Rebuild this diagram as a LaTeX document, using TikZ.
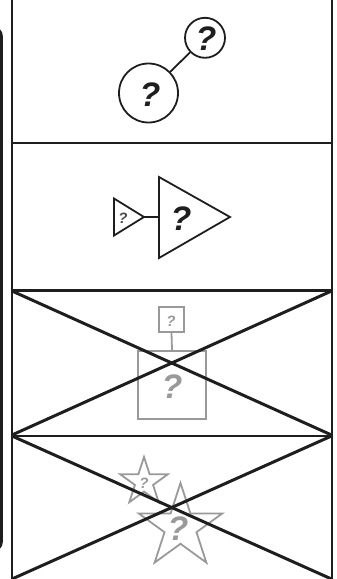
\documentclass[tikz,border=0pt]{standalone}
\usepackage{fontspec}
\setmainfont{Liberation Sans}
\usetikzlibrary{shapes.geometric}
\definecolor{ghost}{HTML}{999999}
\definecolor{ink}{HTML}{1E1E1E}
\tikzset{
  frameline/.style={draw=ink, line width=2pt},
  crossline/.style={draw=ink, line width=3pt},
  blackshape/.style={draw=ink, line width=1.8pt},
  grayshape/.style={draw=ghost, line width=1.8pt},
  bigq/.style={font=\fontsize{34}{34}\selectfont\bfseries\itshape, inner sep=0pt},
  smallq/.style={font=\fontsize{15}{15}\selectfont\bfseries\itshape, inner sep=0pt},
}
\begin{document}
\begin{tikzpicture}[x=1pt,y=-1pt]
\useasboundingbox (0,0) rectangle (337,579);
\begin{scope}
\clip (0,0) rectangle (337,579);
% left cropped rounded frame
\draw[draw=ink, line width=2.6pt, rounded corners=8pt] (-60,28) rectangle (1.5,550);
% main frame
\draw[frameline] (12,-5) -- (12,584);
\draw[frameline] (331.5,-5) -- (331.5,584);
\draw[frameline] (12,143) -- (331.5,143);
\draw[draw=ink, line width=3pt] (12,290.5) -- (331.5,290.5);
\draw[draw=ink, line width=2.4pt] (12,436) -- (331.5,436);
% section 1: circles
\node[circle, blackshape, minimum size=59pt, inner sep=0pt] (c1) at (148.5,93) {};
\node[circle, blackshape, minimum size=40pt, inner sep=0pt] (c2) at (205,37.8) {};
\draw[blackshape] (c1) -- (c2);
\node[bigq, text=ink] (q1) at (150,95) {?};
\node[bigq, text=ink] (q2) at (206,39) {?};
% section 2: triangles
\coordinate (ta) at (114,198.5);
\coordinate (tb) at (114,235.5);
\coordinate (tt) at (144,217);
\coordinate (Ta) at (159,177);
\coordinate (Tb) at (159,258);
\coordinate (Tt) at (230,217);
\draw[blackshape, line join=miter] (ta) -- (tt) -- (tb) -- cycle;
\draw[blackshape, line join=miter] (Ta) -- (Tt) -- (Tb) -- cycle;
\draw[blackshape] (tt) -- (159,217);
\node[smallq, text=ink!80] (q3) at (123,218) {?};
\node[bigq, text=ink] (q4) at (181,219) {?};
% section 3: rectangles
\node[rectangle, grayshape, minimum width=25pt, minimum height=25pt, inner sep=0pt] (s1) at (171.5,319.5) {};
\node[rectangle, grayshape, minimum width=68pt, minimum height=68pt, inner sep=0pt] (s2) at (172,385) {};
\draw[grayshape] (s1.south) -- (s2.north);
\node[smallq, text=ghost] (q5) at (171,321) {?};
\node[bigq, text=ghost] (q6) at (172,387) {?};
% section 4: stars
\node[star, star points=5, star point ratio=2.618, grayshape, minimum size=50pt, inner sep=0pt] (st1) at (144,482) {};
\node[star, star points=5, star point ratio=2.618, grayshape, minimum size=88pt, inner sep=0pt] (st2) at (180.5,527) {};
\node[smallq, text=ghost] (q7) at (144,483) {?};
\node[bigq, text=ghost] (q8) at (178,529) {?};
% crosses
\coordinate (a1) at (12,291);
\coordinate (a2) at (331.5,291);
\coordinate (a3) at (12,435);
\coordinate (a4) at (331.5,435);
\draw[crossline] (a1) -- (a4);
\draw[crossline] (a2) -- (a3);
\coordinate (b1) at (12,436);
\coordinate (b2) at (331.5,436);
\coordinate (b3) at (12,579);
\coordinate (b4) at (331.5,579);
\draw[crossline] (b1) -- (b4);
\draw[crossline] (b2) -- (b3);
\end{scope}
\end{tikzpicture}
\end{document}
